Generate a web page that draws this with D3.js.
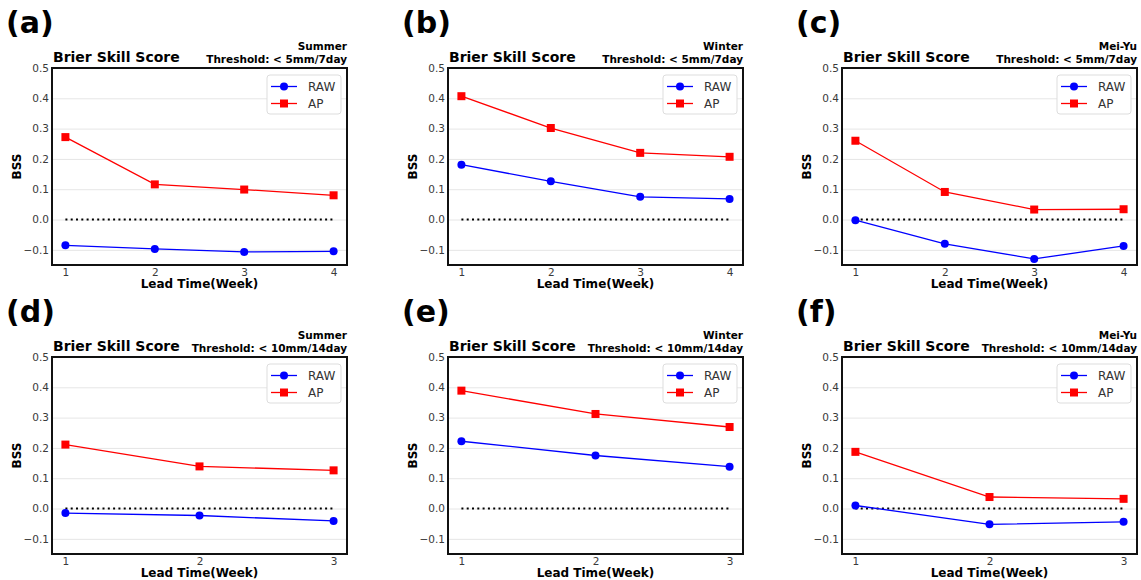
<!DOCTYPE html>
<html>
<head>
<meta charset="utf-8">
<script src="https://cdn.jsdelivr.net/npm/d3@7"></script>
<style>
  body { margin: 0; background: #fff; }
  svg { font-family: "DejaVu Sans", sans-serif; }
</style>
</head>
<body>
<svg width="1141" height="580"></svg>
<script>
// panel text
const panelLabels = ['(a)', '(b)', '(c)', '(d)', '(e)', '(f)'];
const seasons = ['Summer', 'Winter', 'Mei-Yu', 'Summer', 'Winter', 'Mei-Yu'];
const thresholds = ['Threshold: < 5mm/7day', 'Threshold: < 5mm/7day', 'Threshold: < 5mm/7day',
                    'Threshold: < 10mm/14day', 'Threshold: < 10mm/14day', 'Threshold: < 10mm/14day'];

// lead weeks
const weeks7day = [1, 2, 3, 4];
const weeks14day = [1, 2, 3];

// BSS values
const rawA = [-0.085, -0.097, -0.107, -0.105];
const apA  = [0.272, 0.116, 0.099, 0.080];
const rawB = [0.181, 0.126, 0.075, 0.068];
const apB  = [0.407, 0.302, 0.220, 0.207];
const rawC = [-0.002, -0.080, -0.130, -0.087];
const apC  = [0.260, 0.091, 0.033, 0.034];
const rawD = [-0.015, -0.023, -0.041];
const apD  = [0.211, 0.139, 0.126];
const rawE = [0.222, 0.175, 0.138];
const apE  = [0.389, 0.312, 0.269];
const rawF = [0.010, -0.052, -0.044];
const apF  = [0.187, 0.038, 0.032];

const yTicks = [-0.1, 0.0, 0.1, 0.2, 0.3, 0.4, 0.5];

const raws = [rawA, rawB, rawC, rawD, rawE, rawF];
const aps = [apA, apB, apC, apD, apE, apF];

const svg = d3.select('svg');
const pw = 295, ph = 197;
const lefts = [52, 448, 842];
const tops = [68, 357];

const fmt = v => (v < 0 ? '\u2212' : '') + Math.abs(v).toFixed(1);

panelLabels.forEach((lab, i) => {
  const col = i % 3, row = Math.floor(i / 3);
  const weeks = row === 0 ? weeks7day : weeks14day;
  const g = svg.append('g').attr('transform', `translate(${lefts[col]},${tops[row]})`);

  const span = weeks[weeks.length - 1] - weeks[0];
  const x = d3.scaleLinear()
    .domain([weeks[0] - span * 0.05, weeks[weeks.length - 1] + span * 0.05])
    .range([0, pw]);
  const y = d3.scaleLinear().domain([-0.15, 0.5]).range([ph, 0]);

  // gridlines
  g.append('g')
    .call(d3.axisLeft(y).tickValues(yTicks).tickSize(-pw).tickFormat(''))
    .call(a => a.select('.domain').remove())
    .selectAll('line').attr('stroke', '#e6e6e6').attr('stroke-width', 1);

  // y tick labels
  g.append('g')
    .call(d3.axisLeft(y).tickValues(yTicks).tickSize(0).tickPadding(3).tickFormat(fmt))
    .call(a => a.select('.domain').remove())
    .selectAll('text').attr('font-size', 10.5).attr('fill', '#3a3a3a')
    .attr('font-family', '"DejaVu Sans", sans-serif');

  // x tick labels
  g.append('g')
    .attr('transform', `translate(0,${ph})`)
    .call(d3.axisBottom(x).tickValues(weeks).tickSize(0).tickPadding(4).tickFormat(d3.format('d')))
    .call(a => a.select('.domain').remove())
    .selectAll('text').attr('font-size', 10.5).attr('fill', '#3a3a3a')
    .attr('font-family', '"DejaVu Sans", sans-serif');

  // zero reference
  g.append('line')
    .attr('x1', x(weeks[0])).attr('x2', x(weeks[weeks.length - 1]))
    .attr('y1', y(0)).attr('y2', y(0))
    .attr('stroke', '#000').attr('stroke-width', 2)
    .attr('stroke-dasharray', '2,3.3');

  const line = d3.line().x((d, k) => x(weeks[k])).y(d => y(d));

  g.append('path').datum(raws[i])
    .attr('d', line).attr('fill', 'none').attr('stroke', '#0000ff').attr('stroke-width', 1.3);
  g.selectAll('.raw').data(raws[i]).enter().append('circle')
    .attr('cx', (d, k) => x(weeks[k])).attr('cy', d => y(d)).attr('r', 4)
    .attr('fill', '#0000ff');

  g.append('path').datum(aps[i])
    .attr('d', line).attr('fill', 'none').attr('stroke', '#ff0000').attr('stroke-width', 1.3);
  g.selectAll('.ap').data(aps[i]).enter().append('rect')
    .attr('x', (d, k) => x(weeks[k]) - 4).attr('y', d => y(d) - 4)
    .attr('width', 8).attr('height', 8).attr('fill', '#ff0000');

  // frame
  g.append('rect').attr('width', pw).attr('height', ph)
    .attr('fill', 'none').attr('stroke', '#111').attr('stroke-width', 2);

  // legend
  const lg = g.append('g').attr('transform', `translate(${pw - 80},7)`);
  lg.append('rect').attr('width', 74).attr('height', 39).attr('rx', 3)
    .attr('fill', '#fff').attr('stroke', '#ddd');
  [['RAW', '#0000ff', 'c'], ['AP', '#ff0000', 's']].forEach((it, k) => {
    const yy = 11.5 + k * 17;
    lg.append('line').attr('x1', 4).attr('x2', 30).attr('y1', yy).attr('y2', yy)
      .attr('stroke', it[1]).attr('stroke-width', 1.3);
    if (it[2] === 'c') {
      lg.append('circle').attr('cx', 17).attr('cy', yy).attr('r', 4).attr('fill', it[1]);
    } else {
      lg.append('rect').attr('x', 13).attr('y', yy - 4).attr('width', 8).attr('height', 8).attr('fill', it[1]);
    }
    lg.append('text').attr('x', 41).attr('y', yy + 4.3).attr('font-size', 12)
      .attr('fill', '#333').text(it[0]);
  });

  // titles
  g.append('text').attr('x', 1).attr('y', -6.5).attr('font-size', 14)
    .attr('font-weight', 'bold').text('Brier Skill Score');
  g.append('text').attr('x', pw).attr('y', -18).attr('text-anchor', 'end')
    .attr('font-size', 10.5).attr('font-weight', 'bold').text(seasons[i]);
  g.append('text').attr('x', pw).attr('y', -5).attr('text-anchor', 'end')
    .attr('font-size', 10.5).attr('font-weight', 'bold').text(thresholds[i]);

  // axis labels
  g.append('text').attr('x', pw / 2).attr('y', ph + 23).attr('text-anchor', 'middle')
    .attr('font-size', 12).attr('font-weight', 'bold').text('Lead Time(Week)');
  g.append('text').attr('transform', `translate(-31,${ph / 2}) rotate(-90)`)
    .attr('text-anchor', 'middle').attr('font-size', 12).attr('font-weight', 'bold').text('BSS');

  // panel letter
  g.append('text').attr('x', -46).attr('y', -35).attr('font-size', 30)
    .attr('font-weight', 'bold').text(lab);
});
</script>
</body>
</html>
